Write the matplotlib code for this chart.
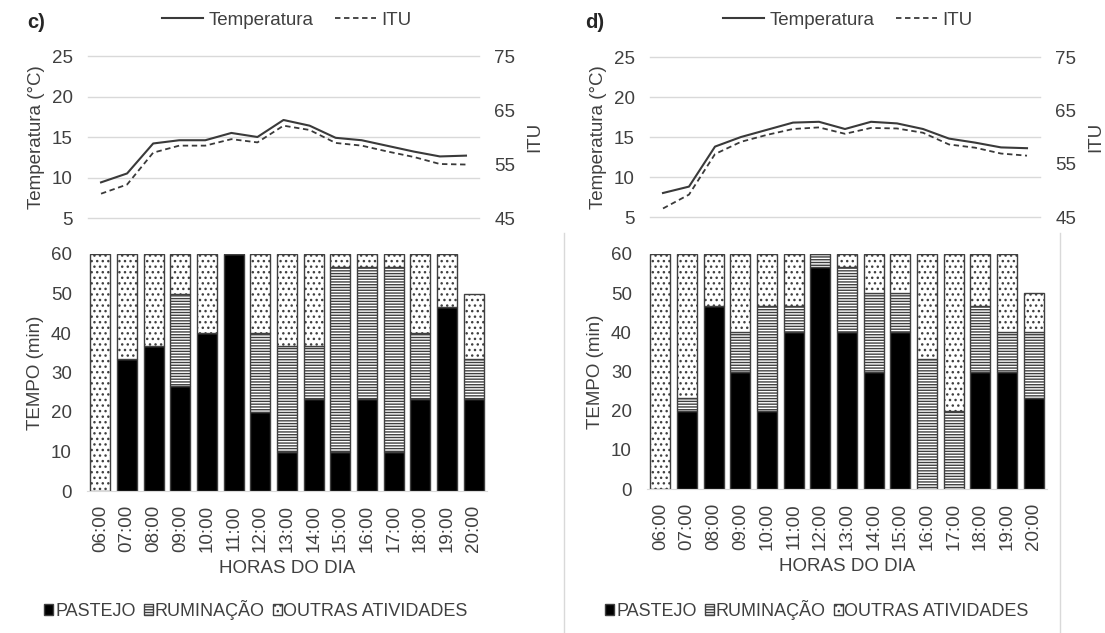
import matplotlib
matplotlib.use("Agg")
import matplotlib.pyplot as plt
from matplotlib.lines import Line2D
import numpy as np

plt.rcParams['font.family'] = ['Liberation Sans', 'DejaVu Sans']
plt.rcParams['font.size'] = 13.5
plt.rcParams['hatch.linewidth'] = 1.0

# ---- data ----
horas = ['06:00', '07:00', '08:00', '09:00', '10:00', '11:00', '12:00', '13:00',
         '14:00', '15:00', '16:00', '17:00', '18:00', '19:00', '20:00']

temp_c = [9.4, 10.5, 14.2, 14.6, 14.6, 15.5, 15.0, 17.1, 16.4, 14.9, 14.6, 13.9, 13.2, 12.6, 12.7]
itu_c = [49.5, 51.2, 57.1, 58.4, 58.4, 59.6, 59.0, 62.1, 61.3, 58.9, 58.4, 57.3, 56.3, 55.0, 54.9]
temp_d = [8.0, 8.8, 13.8, 15.0, 15.9, 16.8, 16.9, 16.0, 16.9, 16.7, 16.0, 14.8, 14.3, 13.7, 13.6]
itu_d = [46.6, 49.2, 56.8, 59.1, 60.4, 61.5, 61.8, 60.6, 61.7, 61.6, 60.8, 58.6, 58.0, 56.9, 56.5]

pastejo_c = [0, 33.3, 36.7, 26.7, 40, 60, 20, 10, 23.3, 10, 23.3, 10, 23.3, 46.7, 23.3]
ruminacao_c = [0, 0, 0, 23.3, 0, 0, 20, 26.7, 13.4, 46.7, 33.4, 46.7, 16.7, 0, 10]
outras_c = [60, 26.7, 23.3, 10, 20, 0, 20, 23.3, 23.3, 3.3, 3.3, 3.3, 20, 13.3, 16.7]

pastejo_d = [0, 20, 46.7, 30, 20, 40, 56.7, 40, 30, 40, 0, 0, 30, 30, 23.3]
ruminacao_d = [0, 3.3, 0, 10, 26.7, 6.7, 3.3, 16.7, 20, 10, 33.3, 20, 16.7, 10, 16.7]
outras_d = [60, 36.7, 13.3, 20, 13.3, 13.3, 0, 3.3, 10, 10, 26.7, 40, 13.3, 20, 10]

W, H = 1105, 633
TXT = '#404040'
GRID = '#d9d9d9'
EDGE = '#404040'


def rect(x0, x1, ytop, ybot):
    # pixel box -> figure fraction
    return [x0 / W, 1 - ybot / H, (x1 - x0) / W, (ybot - ytop) / H]


def draw_panel(fig, line_box, bar_box, temp, itu, past, rum, outr, letter, letter_x, leg_top_x, leg_bot_x):
    x = np.arange(len(horas))

    # top: temperature and ITU
    ax = fig.add_axes(rect(*line_box))
    ax.plot(x, temp, color='#3a3a3a', lw=1.5, label='Temperatura')
    ax.set_xlim(-0.5, len(horas) - 0.5)
    ax.set_ylim(5, 25)
    ax.set_yticks([5, 10, 15, 20, 25])
    ax.set_xticks([])
    ax.yaxis.grid(True, color=GRID, lw=1, clip_on=False)
    ax.set_axisbelow(True)
    ax.set_ylabel('Temperatura (°C)', color=TXT, labelpad=5)

    ax2 = ax.twinx()
    ax2.plot(x, itu, color='#3a3a3a', lw=1.3, ls=(0, (3, 2)), label='ITU')
    ax2.set_ylim(45, 75)
    ax2.set_yticks([45, 55, 65, 75])
    ax2.set_ylabel('ITU', color=TXT, labelpad=8)
    for a in (ax, ax2):
        for s in a.spines.values():
            s.set_visible(False)
        a.tick_params(length=0, pad=11, colors=TXT)

    h1, l1 = ax.get_legend_handles_labels()
    h2, l2 = ax2.get_legend_handles_labels()
    fig.legend(h1 + h2, l1 + l2, loc='center', bbox_to_anchor=(leg_top_x / W, 1 - 20 / H),
               ncol=2, frameon=False, handlelength=2.2, handletextpad=0.3,
               columnspacing=1.1, labelcolor=TXT)
    fig.text(letter_x / W, 1 - 22 / H, letter, fontweight='bold', fontsize=14.5,
             va='center', ha='left', color='#262626')

    # bottom: stacked activity bars
    bx = fig.add_axes(rect(*bar_box))
    b1 = bx.bar(x, past, width=0.75, color='black', edgecolor=EDGE, lw=1, label='PASTEJO')
    b2 = bx.bar(x, rum, width=0.75, bottom=past, color='white', edgecolor=EDGE, lw=1,
                hatch='------', label='RUMINAÇÃO')
    b3 = bx.bar(x, outr, width=0.75, bottom=np.add(past, rum), color='white', edgecolor=EDGE, lw=1,
                hatch='...', label='OUTRAS ATIVIDADES')
    bx.set_xlim(-0.5, len(horas) - 0.5)
    bx.set_ylim(0, 60)
    bx.set_yticks(range(0, 61, 10))
    bx.set_xticks(x)
    bx.set_xticklabels(horas, rotation=90)
    for s in ('top', 'right', 'left'):
        bx.spines[s].set_visible(False)
    bx.spines['bottom'].set_color(GRID)
    bx.tick_params(axis='y', length=0, pad=11, colors=TXT)
    bx.tick_params(axis='x', length=0, pad=10, colors=TXT)
    bx.set_xlabel('HORAS DO DIA', color=TXT, labelpad=6)
    bx.set_ylabel('TEMPO (min)', color=TXT, labelpad=5)

    fig.legend([b1, b2, b3], ['PASTEJO', 'RUMINAÇÃO', 'OUTRAS ATIVIDADES'], loc='center',
               bbox_to_anchor=(leg_bot_x / W, 1 - 610 / H), ncol=3, frameon=False,
               fontsize=13, handlelength=0.5, handleheight=0.6, handletextpad=0.1,
               columnspacing=0.45, labelcolor=TXT)


fig = plt.figure(figsize=(W / 100, H / 100), dpi=100)

draw_panel(fig, (88, 479, 56, 218), (87, 487, 254, 491), temp_c, itu_c,
           pastejo_c, ruminacao_c, outras_c, 'c)', 27, 287, 256)
draw_panel(fig, (650, 1040, 57, 217), (647, 1047, 254, 489), temp_d, itu_d,
           pastejo_d, ruminacao_d, outras_d, 'd)', 585, 848, 817)

# light frame around panel d
fig.add_artist(Line2D([564 / W, 564 / W], [0, 1 - 233 / H], color=GRID, lw=1))
fig.add_artist(Line2D([1060 / W, 1060 / W], [0, 1 - 233 / H], color=GRID, lw=1))

fig.savefig('out.png', dpi=100)
